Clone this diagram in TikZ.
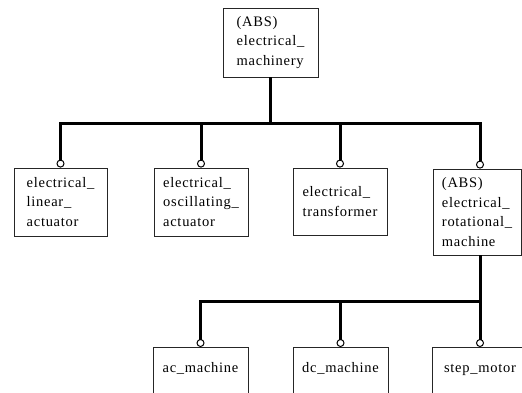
\documentclass[tikz,border=0pt]{standalone}
\usepackage{fontspec}
\setmainfont[LetterSpace=5]{Liberation Serif}
\usetikzlibrary{arrows.meta}
\begin{document}
\begin{tikzpicture}[x=1pt,y=-1pt,
  frame/.style={draw=black!85, line width=0.8pt, inner sep=0pt,
    font=\fontsize{14.5}{19.5}\selectfont},
  box/.style={frame, align=left},
  leaf/.style={frame, anchor=north, minimum width=95pt,
    text height=25pt, text depth=50pt},
  link/.style={line width=3pt,
    -{Circle[open, line width=1pt, length=8pt, width=8pt]}}]
\useasboundingbox (0,0) rectangle (522,392);
\clip (0,0) rectangle (522,392);

% abstract root
\node[box, minimum width=95pt, minimum height=69pt] (root) at (270.5,42.5)
  {(ABS)\\electrical\_\\machinery};

% first level
\node[box, minimum width=93pt, minimum height=68pt] (lin) at (60.5,202)
  {electrical\_\\linear\_\\actuator};
\node[box, minimum width=94pt, minimum height=68pt] (osc) at (201,202)
  {electrical\_\\oscillating\_\\actuator};
\node[box, minimum width=94pt, minimum height=67pt] (tra) at (340,201.5)
  {electrical\_\\transformer};
\node[box, minimum width=88pt, minimum height=86pt] (rot) at (477,212)
  {(ABS)\\electrical\_\\rotational\_\\machine};

% second level
\node[leaf] (ac) at (200.5,347) {ac\_machine};
\node[leaf] (dc) at (340.5,347) {dc\_machine};
\node[leaf] (stp) at (480,347) {step\_motor};

% buses
\coordinate (bus1) at (0,123);
\coordinate (bus2) at (0,301);
\coordinate (rotTop) at ([xshift=3pt]rot.north);
\coordinate (rotBot) at ([xshift=3pt]rot.south);

\foreach \c in {lin,osc,tra}
  \draw[link] (root.south) -- (root.south |- bus1) -| (\c.north);
\draw[link] (root.south) -- (root.south |- bus1) -| (rotTop);

\foreach \c in {ac,dc,stp}
  \draw[link] (rotBot) -- (rotBot |- bus2) -| (\c.north);
\end{tikzpicture}
\end{document}
